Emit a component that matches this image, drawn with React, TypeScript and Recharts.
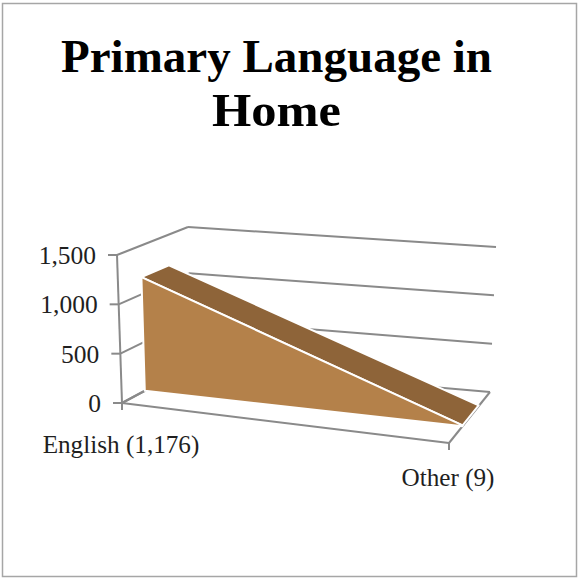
import { AreaChart, Area, CartesianGrid, XAxis, YAxis } from "recharts";

const categories = ["English (1,176)", "Other (9)"];
const counts = [1176, 9];
const yTicks = [0, 500, 1000, 1500];
const titleLines = ["Primary Language in", "Home"];
const titleWidths = [431, 129];

const data = categories.map((label, i) => ({ label, count: counts[i] }));

const AXIS = "#8a8a8a";
const TEXT = "#1f1f1f";
const FRONT = "#b4814a";
const TOP = "#8e6439";
const SERIF = "'Liberation Serif', serif";

// flat plot box that the recharts scales work in, projected to the 3d box below
const BOX = { left: 100, top: 100, size: 378 };

// screen corners of the 3d box: [u][v][w]
const CORNERS = {
  "000": [122, 403],
  "100": [449, 443],
  "001": [191, 366],
  "101": [490, 392],
  "010": [117, 255],
  "110": [453, 288],
  "011": [188, 227],
  "111": [496, 247],
};

// the area ribbon sits in the middle of the depth
const DEPTH_FRONT = 0.33;
const DEPTH_BACK = 0.72;

const project = (u: number, v: number, w: number) => {
  let x = 0;
  let y = 0;
  for (const [key, c] of Object.entries(CORNERS)) {
    const k =
      (key[0] === "1" ? u : 1 - u) *
      (key[1] === "1" ? v : 1 - v) *
      (key[2] === "1" ? w : 1 - w);
    x += k * c[0];
    y += k * c[1];
  }
  return [x, y];
};

const toU = (x: number) => (x - BOX.left) / BOX.size;
const toV = (y: number) => (BOX.top + BOX.size - y) / BOX.size;

const pathOf = (pts: number[][]) =>
  "M" + pts.map((p) => `${p[0].toFixed(1)},${p[1].toFixed(1)}`).join("L") + "Z";

const Edge = ({ from, to }: { from: number[]; to: number[] }) => (
  <line x1={from[0]} y1={from[1]} x2={to[0]} y2={to[1]} stroke={AXIS} strokeWidth={2} />
);

// grid goes under the area: side wall + back wall for each y tick
const WallLine = ({ y1, index }: any) => {
  const v = toV(y1);
  const a = project(0, v, 0);
  const b = project(0, v, 1);
  const c = project(1, v, 1);
  return (
    <g key={`wall-${index}`}>
      <Edge from={a} to={b} />
      <Edge from={b} to={c} />
      {v < 0.001 && <Edge from={a} to={project(1, 0, 0)} />}
    </g>
  );
};

// floor edge going back from each x tick
const FloorLine = ({ x1, index }: any) => {
  const u = toU(x1);
  return (
    <g key={`floor-${index}`}>
      <Edge from={project(u, 0, 0)} to={project(u, 0, 1)} />
    </g>
  );
};

const YTick = ({ y, payload }: any) => {
  const a = project(0, toV(y), 0);
  return (
    <g>
      <Edge from={[a[0] - 9, a[1]]} to={a} />
      {payload.value === 1500 && <Edge from={a} to={project(0, 0, 0)} />}
      <text
        x={a[0] - 21}
        y={a[1]}
        dy={9}
        textAnchor="end"
        fontFamily={SERIF}
        fontSize={25.5}
        fill={TEXT}
      >
        {payload.value.toLocaleString("en-US")}
      </text>
    </g>
  );
};

const XTick = ({ x, payload, index }: any) => {
  const a = project(toU(x), 0, 0);
  return (
    <g>
      <Edge from={a} to={[a[0], a[1] + 7]} />
      <text
        x={a[0] - 1}
        y={a[1]}
        dy={index === 0 ? 50 : 43}
        textAnchor="middle"
        fontFamily={SERIF}
        fontSize={25.2}
        fill={TEXT}
      >
        {payload.value}
      </text>
    </g>
  );
};

// draws the whole ribbon once, from the points recharts has scaled
const Ribbon = ({ index, points }: any) => {
  if (index !== 0) return <g key={index} />;
  const uv = points.map((p: any) => [toU(p.x), toV(p.y)]);
  const last = uv.length - 1;
  const front = [
    ...uv.map((p: number[]) => project(p[0], p[1], DEPTH_FRONT)),
    project(uv[last][0], 0, DEPTH_FRONT),
    project(uv[0][0], 0, DEPTH_FRONT),
  ];
  const top = [
    ...uv.map((p: number[]) => project(p[0], p[1], DEPTH_FRONT)),
    ...uv.map((p: number[]) => project(p[0], p[1], DEPTH_BACK)).reverse(),
  ];
  return (
    <g key="ribbon">
      <path d={pathOf(top)} fill={TOP} stroke="#fff" strokeWidth={2} strokeLinejoin="round" />
      <path d={pathOf(front)} fill={FRONT} stroke="#fff" strokeWidth={2} strokeLinejoin="round" />
    </g>
  );
};

export default function App() {
  return (
    <div
      style={{
        position: "absolute",
        left: 0,
        top: 0,
        width: 578,
        height: 578,
        background: "#fff",
      }}
    >
      <AreaChart
        width={578}
        height={578}
        data={data}
        margin={{
          top: BOX.top,
          left: BOX.left - 1,
          right: 578 - BOX.left - BOX.size,
          bottom: 578 - BOX.top - BOX.size - 1,
        }}
      >
        <rect x={2.5} y={3.5} width={574} height={573} fill="none" stroke="#a6a6a6" strokeWidth={1.5} />
        {titleLines.map((line, i) => (
          <text
            key={line}
            x={276.5}
            y={72 + i * 54}
            textAnchor="middle"
            textLength={titleWidths[i]}
            lengthAdjust="spacingAndGlyphs"
            fontFamily={SERIF}
            fontWeight="bold"
            fontSize={47.2}
            fill="#000"
          >
            {line}
          </text>
        ))}
        <CartesianGrid horizontal={(p: any) => <WallLine {...p} />} vertical={(p: any) => <FloorLine {...p} />} />
        <XAxis
          dataKey="label"
          scale="point"
          height={1}
          interval={0}
          axisLine={false}
          tickLine={false}
          tick={<XTick />}
        />
        <YAxis
          width={1}
          domain={[0, 1500]}
          ticks={yTicks}
          axisLine={false}
          tickLine={false}
          tick={<YTick />}
        />
        <Area
          type="linear"
          dataKey="count"
          stroke="none"
          fill="none"
          dot={(props: any) => <Ribbon key={props.index} {...props} />}
          activeDot={false}
          isAnimationActive={false}
        />
      </AreaChart>
    </div>
  );
}
